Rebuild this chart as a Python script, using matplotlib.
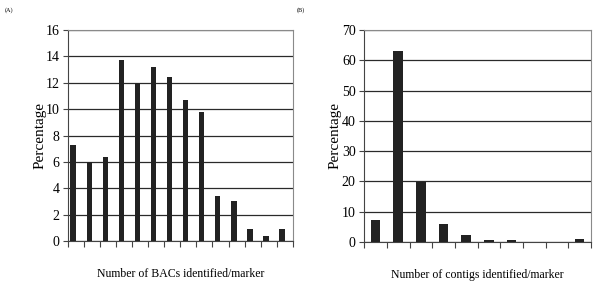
import numpy as np
import matplotlib
matplotlib.use("Agg")
import matplotlib.pyplot as plt

plt.rcParams["font.family"] = ["Liberation Serif", "DejaVu Serif"]

# ── data ───────────────────────────────────────────────────────────────────
BAC_PCT = [7.3, 6.0, 6.4, 13.7, 12.0, 13.2, 12.4, 10.7, 9.8, 3.4, 3.0, 0.9, 0.4, 0.9]
CONTIG_PCT = [7.2, 63.0, 19.8, 6.0, 2.2, 0.5, 0.5, 0.0, 0.0, 1.0]

BAC_YTICKS = [0, 2, 4, 6, 8, 10, 12, 14, 16]
CONTIG_YTICKS = [0, 10, 20, 30, 40, 50, 60, 70]

BAR_COLOR = "#222222"
GRID_COLOR = "#2a2a2a"
FRAME_COLOR = "#8a8a8a"


def draw_panel(ax, values, yticks, xlabel, width, offset, ylab_x):
    n = len(values)
    x = np.arange(n)
    ax.bar(x + offset, values, width=width, color=BAR_COLOR, zorder=3)
    ax.set_xlim(-0.5, n - 0.5)
    ax.set_ylim(yticks[0], yticks[-1])
    ax.set_yticks(yticks)
    ax.set_yticklabels([str(t) for t in yticks], fontsize=10)
    ax.set_xticks(np.arange(n + 1) - 0.5)
    ax.set_xticklabels([])
    ax.tick_params(axis="x", direction="out", length=4, width=0.8, color="#444444")
    ax.tick_params(axis="y", direction="out", length=3.6, width=0.8, color="#444444", pad=2.5)
    ax.yaxis.grid(True, color=GRID_COLOR, linewidth=0.9, zorder=0)
    ax.set_axisbelow(True)
    ax.spines["left"].set_color("#444444")
    ax.spines["bottom"].set_color("#444444")
    ax.spines["top"].set_color(FRAME_COLOR)
    ax.spines["right"].set_color(FRAME_COLOR)
    ax.set_ylabel("Percentage", fontsize=11, va="center")
    ax.yaxis.set_label_coords(ylab_x, 0.5)
    ax.set_xlabel(xlabel, fontsize=8.5, va="center")
    ax.xaxis.set_label_coords(0.5, -0.158)


fig = plt.figure(figsize=(6, 2.88), dpi=100)
ax_a = fig.add_axes([0.113, 0.163, 0.375, 0.733])
ax_b = fig.add_axes([0.607, 0.160, 0.378, 0.736])

draw_panel(ax_a, BAC_PCT, BAC_YTICKS, "Number of BACs identified/marker", 0.333, -0.167, -0.124)
draw_panel(ax_b, CONTIG_PCT, CONTIG_YTICKS, "Number of contigs identified/marker", 0.42, 0.0, -0.128)

fig.text(0.008, 0.975, "(A)", fontsize=4.5, va="top", ha="left")
fig.text(0.495, 0.975, "(B)", fontsize=4.5, va="top", ha="left")

fig.savefig("out.png", dpi=100, facecolor="white")
